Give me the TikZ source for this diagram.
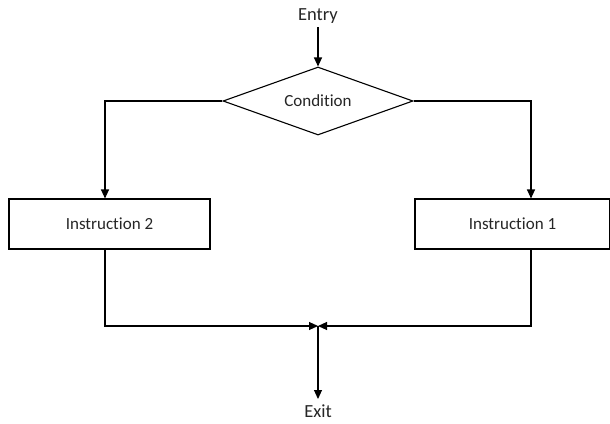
\documentclass[tikz,border=0pt]{standalone}
\usepackage{fontspec}
\setmainfont{Carlito}[Ligatures=NoCommon]
\usetikzlibrary{shapes.geometric,arrows.meta}
\begin{document}
\begin{tikzpicture}[x=1pt,y=-1pt,
  line width=1.1pt,
  lbl/.style={font=\fontsize{17}{19}\selectfont, text=black!85},
  endlbl/.style={font=\fontsize{18.5}{20}\selectfont, text=black!85, inner sep=0pt},
  decision/.style={draw, diamond, aspect=2.8, inner sep=0pt,
    minimum width=190pt, minimum height=68pt, lbl},
  instr/.style={draw, rectangle, minimum height=50pt, lbl},
  arr/.style={-{Triangle[length=9pt,width=8pt]}}]
\useasboundingbox (0,0) rectangle (610,423);
\fill[white] (0,0) rectangle (610,423);

% nodes
\node[endlbl] (entry) at (318,16) {Entry};
\node[decision] (cond) at (318,101) {Condition};
\node[instr, minimum width=201pt] (ins2) at (109.5,224) {Instruction 2};
\node[instr, minimum width=195pt] (ins1) at (512.5,224) {Instruction 1};
\node[endlbl] (exit) at (318,411) {Exit};

% branch columns, junction and the free ends of the entry/exit arrows
\coordinate (lcol) at (105,0);
\coordinate (rcol) at (531,0);
\coordinate (merge) at (318,326);
\coordinate (entrytail) at (318,27);
\coordinate (exittip) at (318,399);

% connectors
\draw[arr] (entrytail) -- (cond.north);
\draw[arr] (cond.west) -| (ins2.north -| lcol);
\draw[arr] (cond.east) -| (ins1.north -| rcol);
\draw[arr] (ins2.south -| lcol) |- (merge);
\draw[arr] (ins1.south -| rcol) |- (merge);
\draw[arr] (merge) -- (exittip);
\end{tikzpicture}
\end{document}
